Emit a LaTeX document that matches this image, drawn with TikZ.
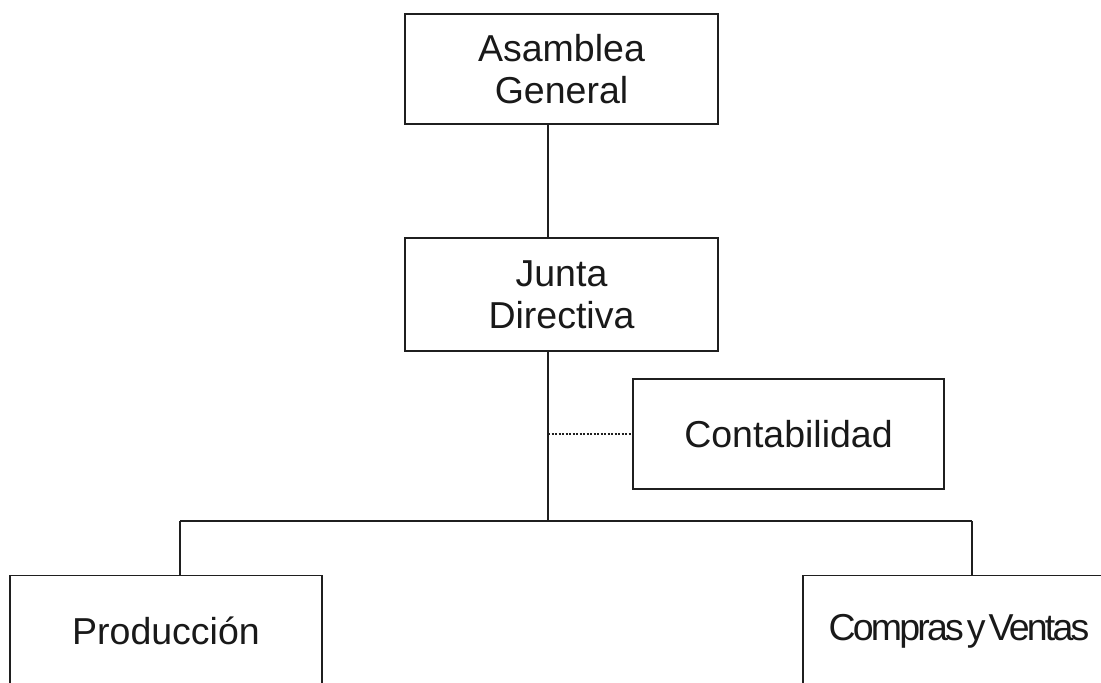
\documentclass[tikz,border=0pt]{standalone}
\usepackage{fontspec}
\usepackage{graphicx}
\setmainfont{Liberation Sans}
\newfontfamily\tightfont[LetterSpace=-7.5,WordSpace=0.4]{Liberation Sans}
\tikzset{
  orgbox/.style={draw=black!88, line width=1.8pt, minimum width=312pt, minimum height=111pt,
    align=center, inner sep=0pt, font=\fontsize{37.5}{42}\selectfont, text=black!90},
  link/.style={draw=black!88, line width=1.8pt},
  dotlink/.style={draw=black!88, line width=1.5pt, dash pattern=on 2pt off 1.5pt}
}
\begin{document}
\begin{tikzpicture}[x=1pt,y=-1pt]
\useasboundingbox[fill=white] (0,0) rectangle (1101,683);
\node[orgbox, minimum width=313pt, minimum height=110pt] (A) at (561.5,69) {Asamblea\\General};
\node[orgbox, minimum width=313pt, minimum height=113pt] (J) at (561.5,294.5) {Junta\\Directiva};
\node[orgbox, minimum width=311pt, minimum height=110pt] (C) at (788.5,434) {Contabilidad};
\node[orgbox] (P) at (166,631) {Producción};
\node[orgbox] (V) at (959,631) {\tightfont Compras y Ventas};
\coordinate (jb) at (548,521);
\coordinate (pl) at (180,521);
\coordinate (vr) at (972,521);
\draw[link] (A.south -| jb) -- (J.north -| jb);
\draw[link] (J.south -| jb) -- (jb);
\draw[link] (pl) -- (vr);
\draw[link] (pl) -- (P.north -| pl);
\draw[link] (vr) -- (V.north -| vr);
\draw[dotlink] (C.west -| jb) -- (C.west);
\end{tikzpicture}
\end{document}
